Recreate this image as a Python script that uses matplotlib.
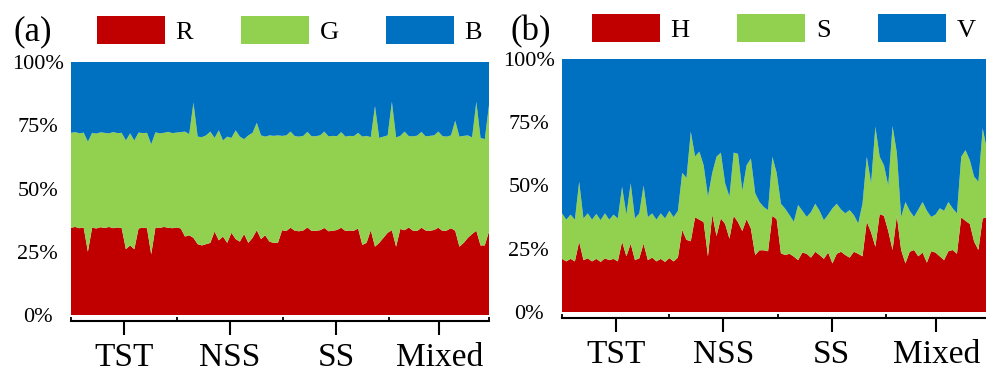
import numpy as np
import matplotlib
matplotlib.use('Agg')
import matplotlib.pyplot as plt

plt.rcParams['font.family'] = ['Liberation Serif', 'DejaVu Serif']

groups = ['TST', 'NSS', 'SS', 'Mixed']
rgb_names = ['R', 'G', 'B']
hsv_names = ['H', 'S', 'V']
colors = ['#C00000', '#92D050', '#0070C0']

# (a) share of R, and R+G together (%), read along the x axis
rgb_r = [34.5, 34.8, 34.3, 34.6, 25.0, 34.5, 34.2, 34.7, 34.4, 34.8,
         34.3, 34.6, 34.4, 26.0, 27.5, 26.0, 34.2, 34.5, 34.3, 24.0,
         34.6, 34.4, 34.8, 34.5, 34.3, 34.6, 34.2, 31.0, 31.5, 30.5,
         28.0, 27.5, 28.0, 28.5, 33.0, 29.5, 31.0, 28.5, 32.5, 30.0,
         29.0, 32.0, 28.5, 30.5, 33.5, 30.0, 31.5, 29.0, 28.5, 28.5,
         33.5, 33.2, 34.5, 33.3, 33.1, 33.4, 34.6, 33.2, 33.3, 33.5,
         34.4, 33.1, 33.3, 33.6, 34.5, 33.2, 33.4, 33.3, 34.2, 27.7,
         28.5, 33.5, 27.0, 28.5, 30.5, 32.5, 33.5, 27.0, 34.0, 33.5,
         34.6, 33.3, 33.2, 34.5, 33.4, 33.3, 33.6, 34.5, 33.2, 33.4,
         34.3, 33.3, 27.0, 28.5, 30.5, 32.0, 33.3, 27.5, 27.5, 33.0]
rgb_rg = [72.0, 72.3, 71.8, 72.1, 68.5, 72.0, 71.7, 72.2, 72.0, 71.8,
          72.3, 71.9, 72.0, 69.0, 71.8, 69.0, 72.1, 71.9, 72.0, 67.5,
          72.2, 71.8, 72.0, 72.4, 71.9, 72.1, 72.3, 72.5, 71.5, 84.0,
          70.5, 70.3, 71.0, 72.5, 70.0, 73.0, 69.0, 70.5, 70.0, 73.0,
          70.5, 69.5, 71.0, 72.0, 76.0, 71.0, 70.5, 71.0, 70.8, 71.0,
          70.8, 71.0, 72.5, 70.7, 70.5, 70.8, 72.4, 70.6, 70.7, 71.0,
          72.5, 70.6, 70.8, 70.7, 72.3, 70.5, 70.8, 70.7, 72.0, 70.5,
          70.8, 70.3, 82.6, 70.0, 70.5, 71.0, 84.3, 70.2, 70.8, 72.5,
          70.7, 70.6, 70.9, 72.4, 70.6, 70.8, 71.0, 72.5, 70.7, 70.5,
          71.0, 76.8, 70.5, 70.8, 71.0, 70.2, 84.3, 70.0, 69.5, 83.0]

# (b) share of H, and H+S together (%)
hsv_h = [21.0, 20.0, 21.0, 20.0, 27.8, 20.5, 21.2, 20.0, 21.0, 19.8,
         21.2, 20.5, 21.0, 20.0, 27.8, 22.0, 27.0, 20.5, 21.2, 27.0,
         20.5, 21.5, 20.0, 21.0, 19.8, 21.3, 20.0, 21.5, 32.4, 28.5,
         28.0, 37.4, 36.5, 35.5, 22.0, 38.5, 30.0, 37.0, 34.8, 29.0,
         38.0, 35.5, 32.0, 36.7, 33.0, 22.5, 24.4, 24.4, 24.0, 38.0,
         36.7, 23.2, 22.5, 23.0, 21.9, 20.5, 23.5, 23.0, 21.5, 23.8,
         22.5, 21.0, 23.5, 19.2, 23.0, 23.8, 22.5, 21.5, 23.8, 23.0,
         22.0, 35.7, 31.5, 25.8, 38.7, 38.0, 32.0, 24.5, 38.0, 24.5,
         19.2, 23.8, 24.5, 22.0, 23.5, 19.5, 24.0, 23.5, 22.0, 20.5,
         24.0, 24.5, 23.0, 37.4, 36.0, 34.8, 27.8, 24.5, 37.0, 37.4]
hsv_hs = [39.0, 36.5, 38.5, 36.5, 51.5, 37.0, 39.0, 36.5, 38.8, 36.3,
          39.0, 36.5, 38.5, 37.0, 49.5, 38.5, 50.9, 37.0, 39.0, 50.0,
          37.5, 39.0, 36.5, 39.0, 37.0, 40.0, 37.5, 40.0, 55.0, 53.0,
          71.3, 61.5, 63.4, 58.0, 45.6, 55.0, 61.4, 63.0, 50.9, 45.6,
          63.0, 62.5, 48.0, 58.0, 60.7, 47.0, 43.5, 41.5, 40.3, 61.4,
          55.0, 42.8, 40.8, 38.3, 35.7, 42.3, 40.0, 37.6, 39.5, 42.8,
          40.0, 36.3, 38.5, 41.0, 42.8, 40.5, 39.0, 40.3, 38.3, 35.0,
          42.8, 61.4, 50.9, 73.3, 61.4, 58.0, 50.0, 73.5, 63.0, 37.6,
          43.5, 40.0, 37.6, 40.5, 43.5, 40.0, 37.6, 38.5, 41.0, 40.0,
          43.5, 41.0, 39.0, 61.4, 64.0, 60.0, 53.5, 51.5, 72.6, 64.0]


def three_parts(first, cum):
    first = np.array(first)
    cum = np.array(cum)
    return first, cum - first, 100 - cum


W, H = 987, 374
fig = plt.figure(figsize=(W / 100, H / 100), dpi=100)
ax_a = fig.add_axes([71 / W, 59 / H, 418 / W, 253 / H])
ax_b = fig.add_axes([562 / W, 62 / H, 425 / W, 253 / H])

bounds = [0, 25, 50.3, 75.4, 99]
centers = [12.5, 37.6, 62.8, 87.2]

panels = [
    (ax_a, rgb_r, rgb_rg, rgb_names, '(a)', 14, 97, 16),
    (ax_b, hsv_h, hsv_hs, hsv_names, '(b)', 511, 592, 14),
]

for ax, first, cum, names, tag, tag_x, leg_x, leg_y in panels:
    x = np.arange(len(first))
    ax.stackplot(x, *three_parts(first, cum), colors=colors, labels=names)
    ax.set_xlim(0, len(first) - 1)
    ax.set_ylim(0, 100)

    ax.set_yticks([0, 25, 50, 75, 100])
    ax.set_yticklabels(['0%', '25%', '50%', '75%', '100%'])
    ax.tick_params(axis='y', length=0, pad=24, labelsize=16)
    for lab in ax.get_yticklabels():
        lab.set_horizontalalignment('center')

    for s in ['top', 'right', 'left']:
        ax.spines[s].set_visible(False)
    ax.spines['bottom'].set_position(('outward', 4))
    ax.spines['bottom'].set_linewidth(1.5)

    ax.set_xticks(bounds)
    ax.set_xticklabels([])
    ax.tick_params(axis='x', which='major', direction='in', length=3, width=1.3)
    ax.set_xticks(centers, minor=True)
    ax.set_xticklabels(groups, minor=True)
    ax.tick_params(axis='x', which='minor', direction='out', length=10,
                   width=1.5, pad=6, labelsize=24)

    ax.legend(ncol=3, loc='upper left',
              bbox_to_anchor=(leg_x / W, 1 - leg_y / H),
              bbox_transform=fig.transFigure, frameon=False, fontsize=19,
              handlelength=2.58, handleheight=1.25, handletextpad=0.4,
              columnspacing=1.8, borderpad=0, borderaxespad=0)

    fig.text(tag_x / W, 1 - 32 / H, tag, fontsize=25, ha='left', va='center')

fig.savefig('out.png', dpi=100)
